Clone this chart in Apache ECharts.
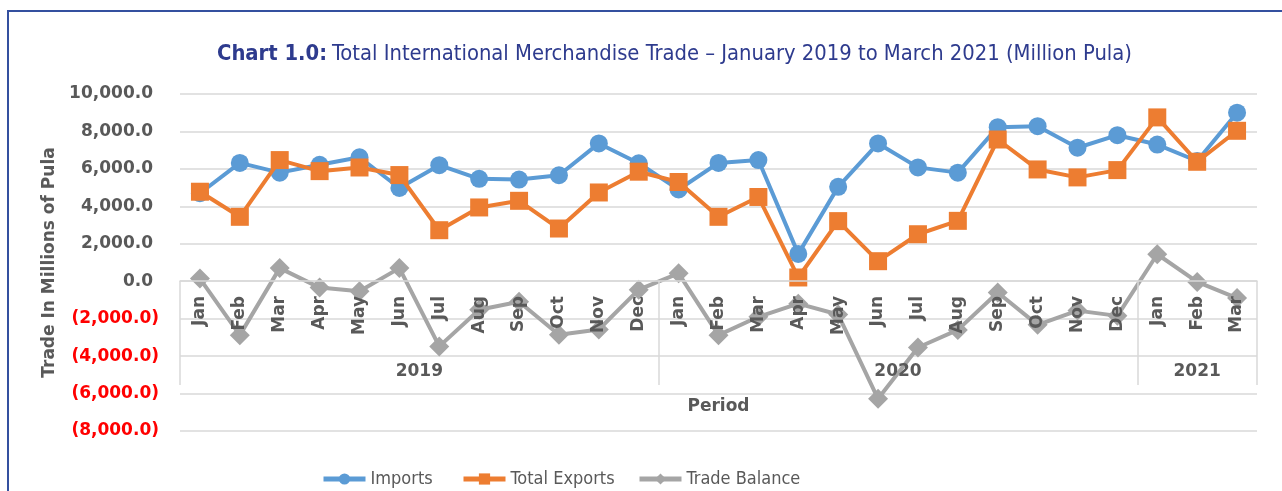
<!DOCTYPE html>
<html>
<head>
<meta charset="utf-8">
<script src="https://cdn.jsdelivr.net/npm/echarts@6/dist/echarts.min.js"></script>
<style>
  html, body { margin: 0; padding: 0; background: #ffffff; }
  #chart { position: absolute; left: 0; top: 0; width: 1282px; height: 491px; }
  #frame { position: absolute; left: 7px; top: 10px; width: 1300px; height: 520px;
           border-top: 2px solid #34509F; border-left: 2px solid #34509F; pointer-events: none; }
</style>
</head>
<body>
<div id="chart"></div>
<div id="frame"></div>
<script>
// ---- data ----
const months = ['Jan','Feb','Mar','Apr','May','Jun','Jul','Aug','Sep','Oct','Nov','Dec',
                'Jan','Feb','Mar','Apr','May','Jun','Jul','Aug','Sep','Oct','Nov','Dec',
                'Jan','Feb','Mar'];
const years = ['2019', '2020', '2021'];
const yearSpans = [12, 12, 3];
const seriesNames = ['Imports', 'Total Exports', 'Trade Balance'];
const imports = [4700, 6320, 5800, 6220, 6620, 4980, 6200, 5470, 5430, 5660, 7360, 6300,
                 4900, 6320, 6470, 1460, 5040, 7360, 6080, 5800, 8230, 8280, 7130, 7800,
                 7300, 6420, 9000];
const exportsTotal = [4780, 3440, 6470, 5880, 6075, 5670, 2725, 3940, 4295, 2815, 4740, 5850,
                      5300, 3440, 4500, 200, 3210, 1070, 2510, 3225, 7570, 5970, 5545, 5935,
                      8750, 6380, 8035];
const balance = [140, -2880, 700, -340, -540, 700, -3480, -1520, -1100, -2860, -2580, -450,
                 420, -2880, -1900, -1200, -1780, -6280, -3540, -2600, -600, -2330, -1570, -1850,
                 1440, -40, -900];
const yTicks = { min: -8000, max: 10000, interval: 2000 };

// ---- derived: year group boundaries and centres ----
const boundaries = [0];
const centres = [];
yearSpans.forEach((s) => {
  const start = boundaries[boundaries.length - 1];
  centres.push(start + s / 2);
  boundaries.push(start + s);
});

function fmtNum(v) {
  return Math.abs(v).toLocaleString('en-US', { minimumFractionDigits: 1, maximumFractionDigits: 1 });
}

const txt = '#595959';
const gridCol = '#d9d9d9';
const baseFont = 'DejaVu Sans';
const narrowFont = "'Liberation Sans Narrow', 'DejaVu Sans Condensed', Roboto, sans-serif";

// grid geometry (layout)
const gridTop = 94, gridBottom = 60, plotH = 491 - gridTop - gridBottom;
const zeroOffset = -Math.round(plotH * (0 - yTicks.min) / (yTicks.max - yTicks.min));

// legend placement (layout)
const legendLefts = [316, 456, 632];
const legends = seriesNames.map((n, i) => ({
  left: legendLefts[i], top: 465,
  itemWidth: 42, itemHeight: 14,
  lineStyle: { width: 5 },
  textStyle: { fontFamily: narrowFont, fontSize: 18, color: txt },
  data: [n]
}));

const chart = echarts.init(document.getElementById('chart'), null, { renderer: 'canvas' });
chart.setOption({
  animation: false,
  title: {
    left: 212, top: 38,
    text: '{b|Chart 1.0:} {n|Total International Merchandise Trade – January 2019 to March 2021 (Million Pula)}',
    textStyle: {
      rich: {
        b: { fontFamily: narrowFont, fontWeight: 900, fontSize: 21.8, color: '#2E3B8E' },
        n: { fontFamily: narrowFont, fontWeight: 'normal', fontSize: 21.8, color: '#2E3B8E' }
      }
    }
  },
  legend: legends,
  grid: { left: 180, right: 25, top: gridTop, bottom: gridBottom, containLabel: false },
  xAxis: [
    {
      type: 'category',
      data: months,
      boundaryGap: true,
      position: 'bottom',
      offset: zeroOffset,
      z: 10,
      axisLine: { onZero: false, lineStyle: { color: gridCol, width: 1.5 } },
      axisTick: { show: false },
      axisLabel: { interval: 0, rotate: 90, margin: 15, fontFamily: baseFont, fontWeight: 'bold',
                   fontSize: 17, color: txt },
      splitLine: { show: false }
    },
    {
      type: 'value',
      min: 0, max: boundaries[boundaries.length - 1],
      position: 'bottom',
      offset: -46,
      z: 10,
      axisLine: { show: false, onZero: false },
      axisTick: { show: true, inside: true, length: 104, customValues: boundaries,
                  lineStyle: { color: gridCol, width: 1.5 } },
      axisLabel: { show: true, inside: true, margin: 5, customValues: centres,
                   formatter: function (v) { const i = centres.indexOf(v); return i >= 0 ? years[i] : ''; },
                   fontFamily: baseFont, fontWeight: 'bold', fontSize: 17, color: txt },
      splitLine: { show: false },
      name: 'Period', nameLocation: 'middle', nameGap: 13,
      nameTextStyle: { fontFamily: baseFont, fontWeight: 'bold', fontSize: 17, color: txt }
    }
  ],
  yAxis: {
    type: 'value',
    min: yTicks.min, max: yTicks.max, interval: yTicks.interval,
    axisLine: { show: false },
    axisTick: { show: false },
    splitLine: { lineStyle: { color: gridCol, width: 1.5 } },
    axisLabel: {
      margin: 21,
      formatter: function (v) { return v < 0 ? '{n|(' + fmtNum(v) + ')}' : '{p|' + fmtNum(v) + '}'; },
      rich: {
        p: { fontFamily: baseFont, fontWeight: 'bold', fontSize: 17, color: txt, padding: [0, 6, 0, 0] },
        n: { fontFamily: baseFont, fontWeight: 'bold', fontSize: 17, color: '#FF0000' }
      }
    },
    name: 'Trade In Millions of Pula', nameLocation: 'middle', nameGap: 114,
    nameTextStyle: { fontFamily: baseFont, fontWeight: 'bold', fontSize: 17, color: txt }
  },
  series: [
    { name: seriesNames[0], type: 'line', data: imports, symbol: 'circle', symbolSize: 18,
      itemStyle: { color: '#5B9BD5' }, lineStyle: { color: '#5B9BD5', width: 4 }, z: 2 },
    { name: seriesNames[1], type: 'line', data: exportsTotal, symbol: 'rect', symbolSize: 18,
      itemStyle: { color: '#ED7D31' }, lineStyle: { color: '#ED7D31', width: 4 }, z: 3 },
    { name: seriesNames[2], type: 'line', data: balance, symbol: 'diamond', symbolSize: 20,
      itemStyle: { color: '#A5A5A5' }, lineStyle: { color: '#A5A5A5', width: 4 }, z: 4 }
  ]
});
</script>
</body>
</html>
